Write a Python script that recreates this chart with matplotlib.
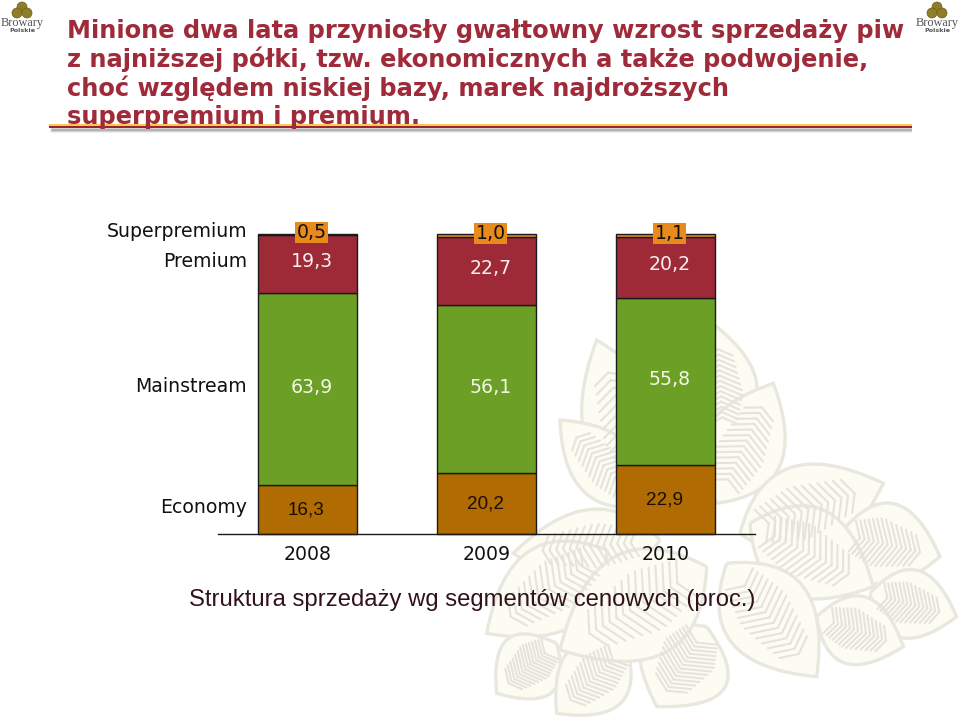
import matplotlib
matplotlib.use("Agg")
import matplotlib.pyplot as plt
import numpy as np
from matplotlib.patches import PathPatch, Rectangle, Circle
from matplotlib.path import Path

years = ["2008", "2009", "2010"]
segments = ["Economy", "Mainstream", "Premium", "Superpremium"]
economy = [16.3, 20.2, 22.9]
mainstream = [63.9, 56.1, 55.8]
premium = [19.3, 22.7, 20.2]
superpremium = [0.5, 1.0, 1.1]
series = [economy, mainstream, premium, superpremium]

title_lines = [
    "Minione dwa lata przyniosły gwałtowny wzrost sprzedaży piw",
    "z najniższej półki, tzw. ekonomicznych a także podwojenie,",
    "choć względem niskiej bazy, marek najdroższych",
    "superpremium i premium.",
]
subtitle = "Struktura sprzedaży wg segmentów cenowych (proc.)"

seg_colors = ["#b06c02", "#6b9f25", "#9e2a38", "#e98a1c"]
text_colors = ["#1a0d00", "#f4f7e8", "#f8eef0", "#111111"]
label_fonts = ["Liberation Sans", "DejaVu Sans", "DejaVu Sans", "DejaVu Sans"]
label_sizes = [13.6, 13.6, 13.6, 13.6]
label_dx = [-1, 3, 3, 3]
label_dy = [0, 1.5, 2, 1.5]

fig = plt.figure(figsize=(9.6, 7.2), dpi=100, facecolor="white")

# decorative background in pixel coordinates
bg = fig.add_axes([0, 0, 1, 1], zorder=0)
bg.set_xlim(0, 960)
bg.set_ylim(720, 0)
bg.axis("off")


def leaf(tip, base, width):
    tip = np.array(tip, float) / 3 + (440, 300)
    base = np.array(base, float) / 3 + (440, 300)
    w = width / 3 * 1.3
    d = tip - base
    u = d / np.hypot(*d)
    n = np.array([-d[1], d[0]]) / np.hypot(*d)
    c1 = base + d * 0.4 + n * w
    c2 = base + d * 0.4 - n * w
    p = Path([base, c1, tip, c2, base],
             [Path.MOVETO, Path.CURVE3, Path.CURVE3, Path.CURVE3, Path.CURVE3])
    bg.add_patch(PathPatch(p, fc="#fdfcf3", ec="#e9e8df", lw=2.4, zorder=1))
    for t in np.linspace(0.2, 0.8, 14):
        a = base + d * t
        L = w * 0.3 * (1 - abs(t - 0.5) * 1.2)
        for s in (1, -1):
            e = a + n * s * L - u * L * 0.5
            bg.plot([a[0], e[0]], [a[1], e[1]], color="#e5e4dc", lw=1.5,
                    solid_capstyle="round", zorder=2)


leaves = [
    ((470, 120), (640, 610), 200), ((360, 360), (610, 620), 150),
    ((830, 80), (850, 420), 170), ((1000, 250), (830, 610), 190),
    ((1330, 550), (900, 700), 210), ((1500, 770), (1200, 700), 190),
    ((1300, 860), (930, 670), 210), ((1550, 950), (1290, 880), 160),
    ((1390, 1040), (1130, 950), 160), ((1130, 1130), (860, 790), 210),
    ((220, 760), (660, 720), 170), ((140, 1000), (500, 750), 200),
    ((170, 1180), (350, 1030), 160), ((350, 1240), (560, 1040), 170),
    ((650, 1220), (800, 980), 220), ((360, 1050), (800, 800), 250),
]
for lf in leaves:
    leaf(*lf)

# header rule with soft shadow
for i, a in enumerate([0.12, 0.22, 0.35]):
    bg.add_patch(Rectangle((50 + i, 126.5 + i), 862 - i, 6 - 2 * i, fc="#777777",
                           ec="none", alpha=a, zorder=3))
bg.add_patch(Rectangle((49, 123.5), 863, 2.5, fc="#f2cd52", ec="none", zorder=4))
bg.add_patch(Rectangle((49, 126), 863, 1.6, fc="#a0222e", ec="none", zorder=4))


def logo(cx):
    for dx, dy in [(0, 7), (-5, 13), (5, 13)]:
        bg.add_patch(Circle((cx + dx, dy), 5, fc="#8f7d2a", ec="#6e5d1e", lw=0.5, zorder=3))
    bg.text(cx, 23, "Browary", family="Liberation Serif", fontsize=8.8, color="#555555",
            ha="center", va="center", zorder=3)
    bg.text(cx, 30, "Polskie", family="DejaVu Sans", fontsize=4.6, weight="bold",
            color="#555555", ha="center", va="center", zorder=3)


logo(22)
logo(937)

for line, y in zip(title_lines, [31, 59.5, 88, 117]):
    bg.text(67, y, line, family="DejaVu Sans", weight="bold", fontsize=17.35,
            color="#9e2a3a", ha="left", va="center", zorder=5)

bg.text(472, 600, subtitle, family="Liberation Sans", fontsize=17.2, color="#32121a",
        ha="center", va="center", zorder=5)

# stacked bars
ax = fig.add_axes([218 / 960, 1 - 534 / 720, (755 - 218) / 960, 300 / 720], zorder=2)
ax.patch.set_alpha(0)
ax.set_xlim(-0.5, 2.5)
ax.set_ylim(0, 100)
x = np.arange(len(years))
bar_w = 0.553
bottom = np.zeros(len(years))
centers = []
for vals, col, tc, fam, fs, dx, dy in zip(series, seg_colors, text_colors, label_fonts,
                                          label_sizes, label_dx, label_dy):
    vals = np.array(vals)
    ax.bar(x, vals, bar_w, bottom=bottom, color=col, edgecolor="#1a1a1a", linewidth=1, clip_on=False)
    mids = bottom + vals / 2
    centers.append(mids[0])
    for xi, m, v in zip(x, mids, vals):
        top = col == seg_colors[3]
        ax.annotate(f"{v:.1f}".replace(".", ","), (xi, m), xytext=(dx, dy), textcoords="offset points",
                    ha="center", va="center", family=fam, fontsize=fs, color=tc, zorder=6,
                    annotation_clip=False,
                    bbox=dict(fc=col, ec="none", pad=0.8) if top else None)
    bottom = bottom + vals

for name, c, dy in zip(segments, centers, [1.5, 2, 2, 2]):
    ax.annotate(name, (-bar_w / 2, c), xytext=(-8, dy), textcoords="offset points",
                ha="right", va="center", family="DejaVu Sans", fontsize=13.6,
                color="#111111", annotation_clip=False)

for s in ("top", "left", "right"):
    ax.spines[s].set_visible(False)
ax.spines["bottom"].set_color("#1a1a1a")
ax.spines["bottom"].set_linewidth(1)
ax.set_yticks([])
ax.set_xticks(x, years)
ax.tick_params(axis="x", length=0, pad=8, labelsize=13.6, labelcolor="#111111")

fig.savefig("out.png", dpi=100, facecolor="white")
